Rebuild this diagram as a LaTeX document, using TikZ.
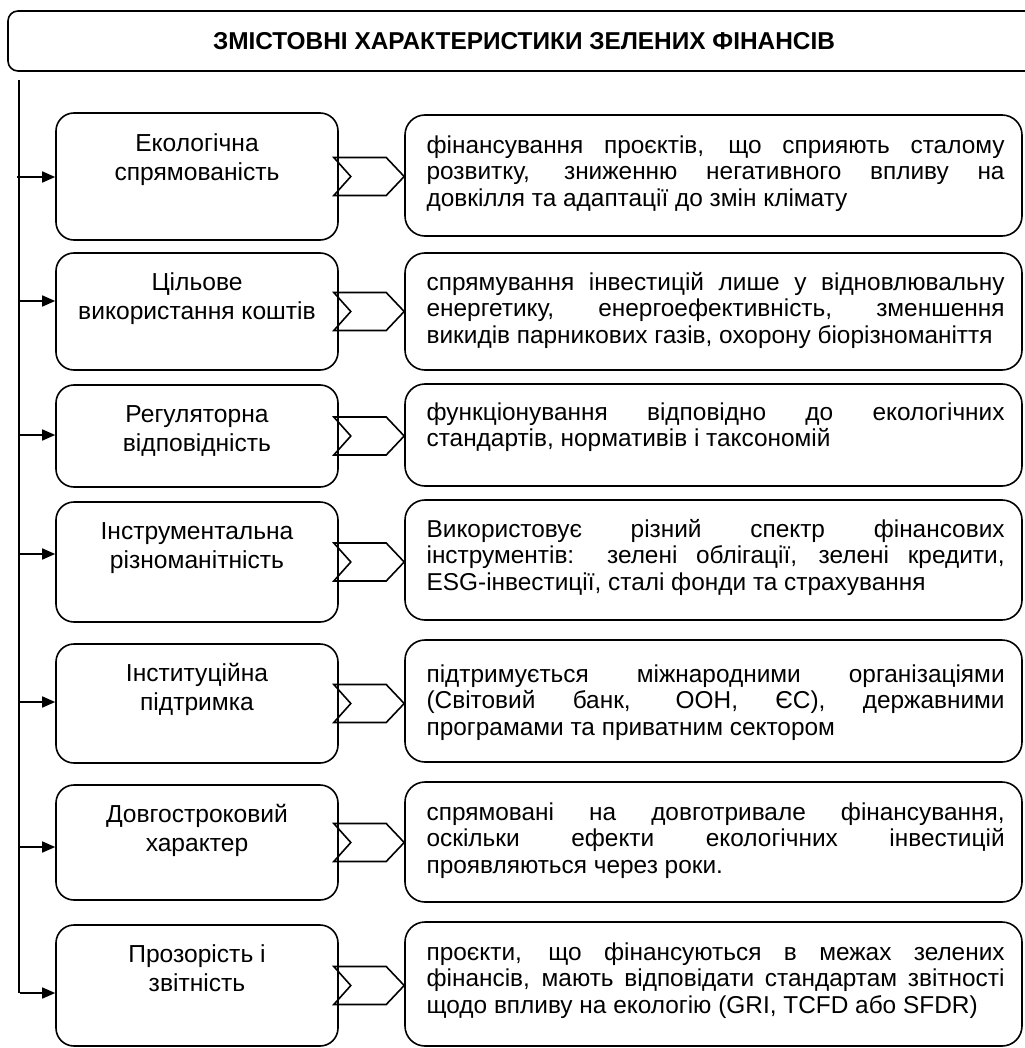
\documentclass[tikz,border=0pt]{standalone}
\usepackage{fontspec}
\setmainfont{Liberation Sans}
\usetikzlibrary{positioning,calc,arrows.meta}

\tikzset{
  lbox/.style={draw, rounded corners=9pt, line width=0.8pt, minimum width=141pt},
  rbox/.style={draw, rounded corners=10pt, line width=0.8pt, minimum width=308.5pt},
  ltxt/.style={align=center, inner sep=0pt, font=\fontsize{12.3}{14.75}\selectfont},
  rtxt/.style={align=justify, text width=289pt, inner sep=0pt, font=\fontsize{12.2}{13.3}\selectfont},
  arr/.style={-{Triangle[length=6.5pt,width=5.5pt]}, line width=0.8pt},
  chevline/.style={line width=0.8pt, line join=miter}
}

% chevron between a left box and its right box
\newcommand{\chev}[2]{%
  \draw[chevline] ($(#1.east)+(-5,-19)$) -- ($(#1.east)+(12,0)$) -- ($(#1.east)+(-5,19)$)
    -- ($(#2.west |- #1.east)+(-18,19)$) -- (#2.west |- #1.east)
    -- ($(#2.west |- #1.east)+(-18,-19)$) -- cycle;}

\tolerance=10000
\hbadness=10000

\begin{document}
\begin{tikzpicture}[x=0.5pt, y=-0.5pt]
        \useasboundingbox (0,0) rectangle (1024,1048);

        \node[draw, rounded corners=5pt, line width=0.8pt, minimum width=516pt, minimum height=30pt,
              font=\fontsize{12.2}{14}\selectfont\bfseries] (title) at (524,41)
              {ЗМІСТОВНІ ХАРАКТЕРИСТИКИ ЗЕЛЕНИХ ФІНАНСІВ};

        \coordinate (top) at (19,80);
        \coordinate (bot) at (19,993);
        \draw[line width=0.8pt] (top) -- (bot);

        % left column
        \node[lbox, minimum height=63.5pt] (l1) at (197,176.5) {};
        \node[lbox, minimum height=58.5pt] (l2) at (197,311.5) {};
        \node[lbox, minimum height=51pt] (l3) at (197,436) {};
        \node[lbox, minimum height=60pt] (l4) at (197,562) {};
        \node[lbox, minimum height=59.5pt] (l5) at (197,703.5) {};
        \node[lbox, minimum height=57.5pt] (l6) at (197,842.5) {};
        \node[lbox, minimum height=60.5pt] (l7) at (197,985.5) {};

        \node[ltxt, below=9pt of l1.north] (t1) {\strut Екологічна\\спрямованість};
        \node[ltxt, below=8.5pt of l2.north] (t2) {\strut Цільове\\використання коштів};
        \node[ltxt, below=8.5pt of l3.north] (t3) {\strut Регуляторна\\відповідність};
        \node[ltxt, below=8.5pt of l4.north] (t4) {\strut Інструментальна\\різноманітність};
        \node[ltxt, below=8.5pt of l5.north] (t5) {\strut Інституційна\\підтримка};
        \node[ltxt, below=8.5pt of l6.north] (t6) {\strut Довгостроковий\\характер};
        \node[ltxt, below=8.5pt of l7.north] (t7) {\strut Прозорість і\\звітність};

        % right column
        \node[rbox, minimum height=60.5pt] (r1) at (713.5,175.5) {};
        \node[rbox, minimum height=58.5pt] (r2) at (713.5,311.5) {};
        \node[rbox, minimum height=51pt] (r3) at (713.5,435) {};
        \node[rbox, minimum height=60pt] (r4) at (713.5,560) {};
        \node[rbox, minimum height=61pt] (r5) at (713.5,701) {};
        \node[rbox, minimum height=60pt] (r6) at (713.5,842) {};
        \node[rbox, minimum height=62pt] (r7) at (713.5,984) {};

        \node[rtxt, below right=10pt and 11pt of r1.north west] (d1)
          {\strut фінансування проєктів, що сприяють сталому\linebreak розвитку, зниженню негативного впливу на\linebreak довкілля та адаптації до змін клімату};
        \node[rtxt, below right=9.5pt and 11pt of r2.north west] (d2)
          {\strut спрямування інвестицій лише у відновлювальну\linebreak енергетику, енергоефективність, зменшення\linebreak викидів парникових газів, охорону біорізноманіття};
        \node[rtxt, below right=9pt and 11pt of r3.north west] (d3)
          {\strut функціонування відповідно до екологічних\linebreak стандартів, нормативів і таксономій};
        \node[rtxt, below right=9.5pt and 11pt of r4.north west] (d4)
          {\strut Використовує різний спектр фінансових\linebreak інструментів: зелені облігації, зелені кредити,\linebreak ESG-інвестиції, сталі фонди та страхування};
        \node[rtxt, below right=12pt and 11pt of r5.north west] (d5)
          {\strut підтримується міжнародними організаціями\linebreak (Світовий банк, ООН, ЄС), державними\linebreak програмами та приватним сектором};
        \node[rtxt, below right=10pt and 11pt of r6.north west] (d6)
          {\strut спрямовані на довготривале фінансування,\linebreak оскільки ефекти екологічних інвестицій\linebreak проявляються через роки.};
        \node[rtxt, below right=10pt and 11pt of r7.north west] (d7)
          {\strut проєкти, що фінансуються в межах зелених\linebreak фінансів, мають відповідати стандартам звітності\linebreak щодо впливу на екологію (GRI, TCFD або SFDR)};

        % arrows from the spine
        \coordinate (a1) at (17,177);
        \coordinate (a2) at (20,301);
        \coordinate (a3) at (19,435);
        \coordinate (a4) at (19,554);
        \coordinate (a5) at (19,702);
        \coordinate (a6) at (20,847);
        \coordinate (a7) at (20,993);
        \draw[arr] (a1) -- (a1 -| l1.west);
        \draw[arr] (a2) -- (a2 -| l2.west);
        \draw[arr] (a3) -- (a3 -| l3.west);
        \draw[arr] (a4) -- (a4 -| l4.west);
        \draw[arr] (a5) -- (a5 -| l5.west);
        \draw[arr] (a6) -- (a6 -| l6.west);
        \draw[arr] (a7) -- (a7 -| l7.west);

        \chev{l1}{r1}
        \chev{l2}{r2}
        \chev{l3}{r3}
        \chev{l4}{r4}
        \chev{l5}{r5}
        \chev{l6}{r6}
        \chev{l7}{r7}

\end{tikzpicture}
\end{document}
